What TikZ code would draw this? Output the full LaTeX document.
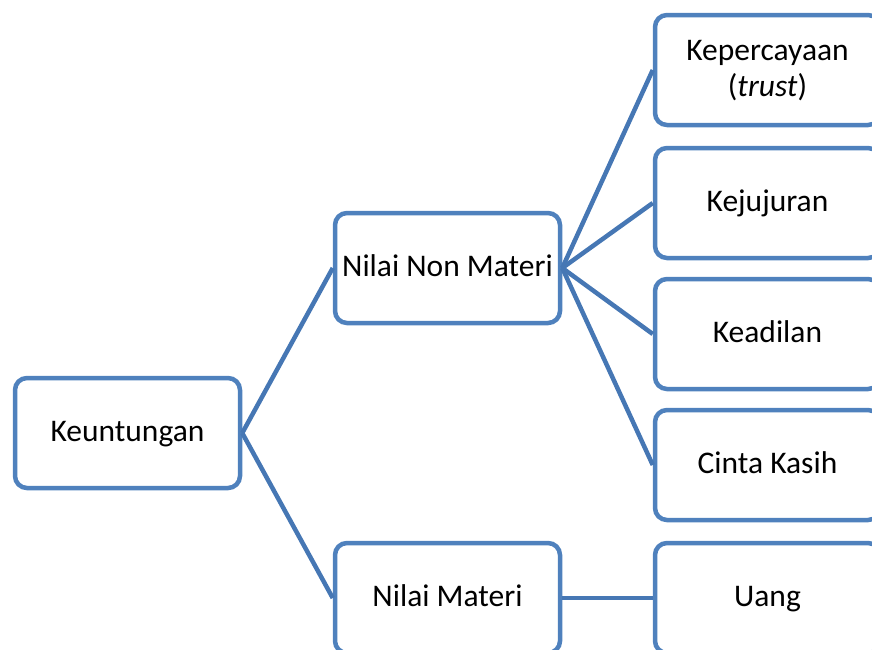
\documentclass[tikz,border=0pt]{standalone}
\usepackage{fontspec}
\setmainfont{Carlito}
\usepackage{xcolor}
\usetikzlibrary{positioning, calc}

\definecolor{boxblue}{HTML}{4F81BD}
\definecolor{linkblue}{HTML}{4677B4}

\begin{document}
\begin{tikzpicture}[x=1pt, y=-1pt,
    box/.style={draw=boxblue, line width=4.5pt, rounded corners=12pt, fill=white,
                minimum width=225pt, minimum height=110pt, align=center,
                text height=23pt, text depth=6pt,
                font=\fontsize{31.5}{36}\selectfont},
    link/.style={draw=linkblue, line width=4.5pt}]
                    \clip (0,0) rectangle (872,649);

                    \node[box] (keuntungan) at (127.5,433) {Keuntungan};
                    \node[box] (nonmateri)  at (447.5,268) {Nilai Non Materi};
                    \node[box] (materi)     at (447.5,598) {Nilai Materi};

                    \node[box, text height=59pt] (percaya) at (767.5,70)  {Kepercayaan\\(\textit{trust})};
                    \node[box] (jujur)   at (767.5,203) {Kejujuran};
                    \node[box] (adil)    at (767.5,334) {Keadilan};
                    \node[box] (kasih)   at (767.5,465) {Cinta Kasih};
                    \node[box] (uang)    at (767.5,598) {Uang};

                    \draw[link] (keuntungan.east) -- (nonmateri.west);
                    \draw[link] (keuntungan.east) -- (materi.west);
                    \foreach \n in {percaya, jujur, adil, kasih}
                        \draw[link] (nonmateri.east) -- (\n.west);
                    \draw[link] (materi.east) -- (uang.west);
                \end{tikzpicture}
\end{document}
